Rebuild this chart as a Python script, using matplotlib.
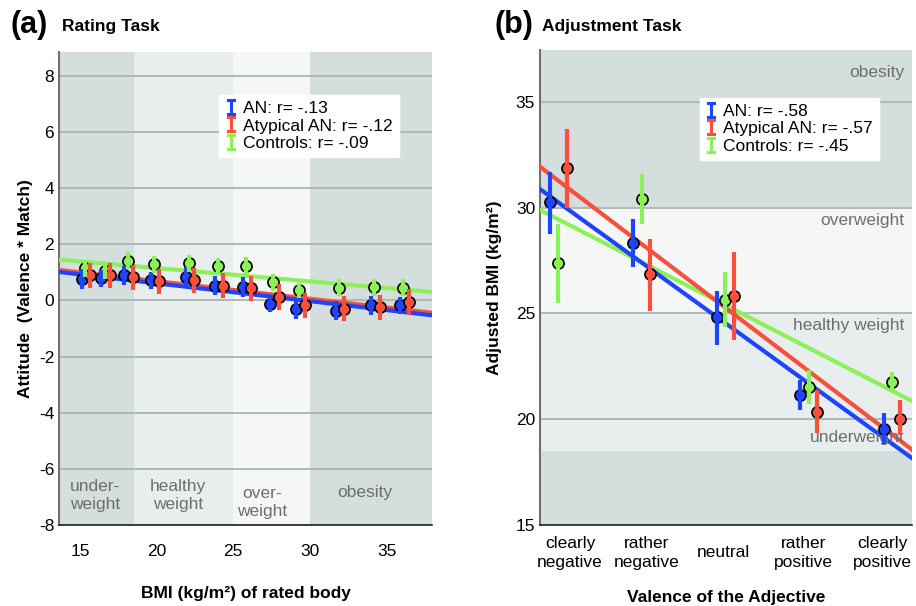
import matplotlib
matplotlib.use("Agg")
import matplotlib.pyplot as plt
import numpy as np
from matplotlib.lines import Line2D

plt.rcParams['font.family'] = ['Liberation Sans', 'DejaVu Sans']
plt.rcParams['axes.unicode_minus'] = False

# colours of the three groups
BLUE = '#1f45fc'
RED = '#f8503c'
GREEN = '#8cf05a'
DARK_BAND = '#d4dfdd'
MID_BAND = '#e8eeed'
LIGHT_BAND = '#f5f7f7'
GRID = '#a9b5b3'
LABEL_GREY = '#6e6e6e'

# ---- (a) Rating task ----
bmi_bodies = [15.3, 16.6, 18.1, 19.8, 22.1, 24.0, 25.8, 27.6, 29.3, 31.9, 34.2, 36.1]
an_att = [0.77, 0.79, 0.89, 0.71, 0.85, 0.53, 0.47, -0.12, -0.30, -0.36, -0.18, -0.18]
aan_att = [0.90, 0.90, 0.82, 0.68, 0.71, 0.53, 0.43, 0.12, -0.18, -0.30, -0.24, -0.06]
con_att = [1.14, 1.05, 1.42, 1.28, 1.33, 1.21, 1.24, 0.65, 0.38, 0.45, 0.47, 0.45]
an_att_err = [0.35, 0.3, 0.35, 0.3, 0.35, 0.35, 0.35, 0.3, 0.35, 0.35, 0.35, 0.3]
aan_att_err = [0.45, 0.45, 0.45, 0.45, 0.45, 0.45, 0.45, 0.45, 0.45, 0.45, 0.45, 0.45]
con_att_err = [0.3, 0.3, 0.3, 0.3, 0.3, 0.3, 0.3, 0.3, 0.3, 0.3, 0.3, 0.3]
# regression lines (intercept, slope)
an_fit_a = (1.88, -0.0635)
aan_fit_a = (1.94, -0.0627)
con_fit_a = (2.10, -0.0474)
r_a = ['-.13', '-.12', '-.09']

# ---- (b) Adjustment task ----
valence = ['clearly\nnegative', 'rather\nnegative', 'neutral', 'rather\npositive', 'clearly\npositive']
an_adj = [30.25, 28.32, 24.83, 21.13, 19.56]
an_lo = [28.76, 27.18, 23.49, 20.42, 18.85]
an_hi = [31.67, 29.47, 26.08, 21.84, 20.27]
con_adj = [27.37, 30.41, 25.64, 21.52, 21.76]
con_lo = [25.49, 29.23, 24.35, 20.74, 21.37]
con_hi = [29.23, 31.59, 26.95, 22.31, 22.23]
aan_adj = [31.85, 26.84, 25.80, 20.34, 20.03]
aan_lo = [29.99, 25.10, 23.73, 19.33, 19.25]
aan_hi = [33.70, 28.52, 27.90, 21.37, 20.90]
an_fit_b = (33.10, -2.851)
aan_fit_b = (34.27, -2.998)
con_fit_b = (31.47, -2.025)
r_b = ['-.58', '-.57', '-.45']

fig = plt.figure(figsize=(9.16, 6.06), dpi=100)
axa = fig.add_axes([59 / 916, 81 / 606, 373 / 916, 473 / 606])
axb = fig.add_axes([540 / 916, 81 / 606, 372 / 916, 475 / 606])


def style_axes(ax):
    for s in ['top', 'right']:
        ax.spines[s].set_visible(False)
    ax.spines['left'].set_color('#707070')
    ax.spines['left'].set_linewidth(1.5)
    ax.spines['bottom'].set_color('#222222')
    ax.spines['bottom'].set_linewidth(1.2)
    ax.tick_params(length=0, labelsize=12.5)
    ax.yaxis.grid(True, color=GRID, linewidth=1.3)
    ax.set_axisbelow(True)


def legend_handles(rs):
    names = ['AN', 'Atypical AN', 'Controls']
    cols = [BLUE, RED, GREEN]
    hs = []
    for n, c, r in zip(names, cols, rs):
        hs.append(Line2D([], [], linestyle='none', marker='$\\mathtt{I}$',
                         markersize=11, color=c, markeredgewidth=0.8,
                         label=f'{n}: r= {r}'))
    return hs


def points(ax, x, vals, yerr, col):
    # markers first, then the error bars on top of them
    ax.plot(x, vals, 'o', markersize=8, markerfacecolor=col,
            markeredgecolor='black', markeredgewidth=1.2, zorder=4)
    ax.errorbar(x, vals, yerr=yerr, fmt='none', ecolor=col, elinewidth=3,
                capsize=0, zorder=5)


# panel (a)
xa0, xa1 = 13.63, 37.96
axa.set_xlim(xa0, xa1)
axa.set_ylim(-8, 8.85)
axa.axvspan(xa0, 18.5, color=DARK_BAND, zorder=0, lw=0)
axa.axvspan(18.5, 25, color=MID_BAND, zorder=0, lw=0)
axa.axvspan(25, 30, color=LIGHT_BAND, zorder=0, lw=0)
axa.axvspan(30, xa1, color=DARK_BAND, zorder=0, lw=0)
style_axes(axa)
axa.set_yticks(np.arange(-8, 9, 2))
axa.set_xticks([15, 20, 25, 30, 35])
axa.tick_params(axis='x', pad=14)

xs = np.array([xa0, xa1])
for fit, col in [(con_fit_a, GREEN), (aan_fit_a, RED), (an_fit_a, BLUE)]:
    axa.plot(xs, fit[0] + fit[1] * xs, color=col, lw=3, zorder=3)

bx = np.array(bmi_bodies)
for off, vals, err, col in [(-0.2, an_att, an_att_err, BLUE),
                            (0.0, con_att, con_att_err, GREEN),
                            (0.35, aan_att, aan_att_err, RED)]:
    points(axa, bx + off, vals, err, col)

for txt, x, y in [('under-\nweight', 15.98, -6.95), ('healthy\nweight', 21.4, -6.95),
                  ('over-\nweight', 26.9, -7.2), ('obesity', 33.6, -6.85)]:
    axa.text(x, y, txt, ha='center', va='center', fontsize=12.5, color=LABEL_GREY,
             linespacing=1.3)

leg = axa.legend(handles=legend_handles(r_a), loc='upper left',
                 bbox_to_anchor=(0.43, 0.91), fontsize=12.5, frameon=True,
                 fancybox=False, edgecolor='white', framealpha=1,
                 handlelength=0.6, handletextpad=0.4, labelspacing=0.15,
                 borderpad=0.35, borderaxespad=0)
leg.set_zorder(6)

axa.set_xlabel('BMI (kg/m²) of rated body', fontsize=12.5, fontweight='bold',
               labelpad=19)
axa.set_ylabel('Attitude  (Valence * Match)', fontsize=12.5, fontweight='bold',
               labelpad=4)

# panel (b)
xb0, xb1 = 0.78, 5.24
axb.set_xlim(xb0, xb1)
axb.set_ylim(15, 37.45)
axb.axhspan(15, 18.5, color=DARK_BAND, zorder=0, lw=0)
axb.axhspan(18.5, 25, color=MID_BAND, zorder=0, lw=0)
axb.axhspan(25, 30, color=LIGHT_BAND, zorder=0, lw=0)
axb.axhspan(30, 37.45, color=DARK_BAND, zorder=0, lw=0)
style_axes(axb)
axb.set_yticks([15, 20, 25, 30, 35])
axb.set_xticks([1.14, 2.06, 2.98, 3.94, 4.89])
axb.set_xticklabels(valence)
for lab in axb.get_xticklabels():
    lab.set_va('center')
    lab.set_linespacing(1.3)
axb.tick_params(axis='x', pad=20)

xs = np.array([xb0, xb1])
for fit, col in [(con_fit_b, GREEN), (aan_fit_b, RED), (an_fit_b, BLUE)]:
    axb.plot(xs, fit[0] + fit[1] * xs, color=col, lw=3, zorder=3)

cx = np.arange(1, 6)
for off, vals, lo, hi, col in [(-0.1, an_adj, an_lo, an_hi, BLUE),
                               (0.0, con_adj, con_lo, con_hi, GREEN),
                               (0.1, aan_adj, aan_lo, aan_hi, RED)]:
    v = np.array(vals)
    yerr = [v - np.array(lo), np.array(hi) - v]
    points(axb, cx + off, v, yerr, col)

for txt, y in [('obesity', 36.37), ('overweight', 29.39),
               ('healthy weight', 24.43), ('underweight', 19.15)]:
    axb.text(0.98, y, txt, transform=axb.get_yaxis_transform(), ha='right',
             va='center', fontsize=12.5, color=LABEL_GREY)

leg = axb.legend(handles=legend_handles(r_b), loc='upper left',
                 bbox_to_anchor=(0.43, 0.90), fontsize=12.5, frameon=True,
                 fancybox=False, edgecolor='white', framealpha=1,
                 handlelength=0.6, handletextpad=0.4, labelspacing=0.15,
                 borderpad=0.35, borderaxespad=0)
leg.set_zorder(6)

axb.set_xlabel('Valence of the Adjective', fontsize=12.5, fontweight='bold',
               labelpad=15)
axb.set_ylabel('Adjusted BMI (kg/m²)', fontsize=12.5, fontweight='bold', labelpad=10)

# panel titles
fig.text(10 / 916, 1 - 25 / 606, '(a)', fontsize=22, fontweight='bold', va='center')
fig.text(62 / 916, 1 - 26 / 606, 'Rating Task', fontsize=12.5, fontweight='bold', va='center')
fig.text(495 / 916, 1 - 25 / 606, '(b)', fontsize=22, fontweight='bold', va='center')
fig.text(542 / 916, 1 - 26 / 606, 'Adjustment Task', fontsize=12.5, fontweight='bold', va='center')

fig.savefig('out.png', dpi=100)
